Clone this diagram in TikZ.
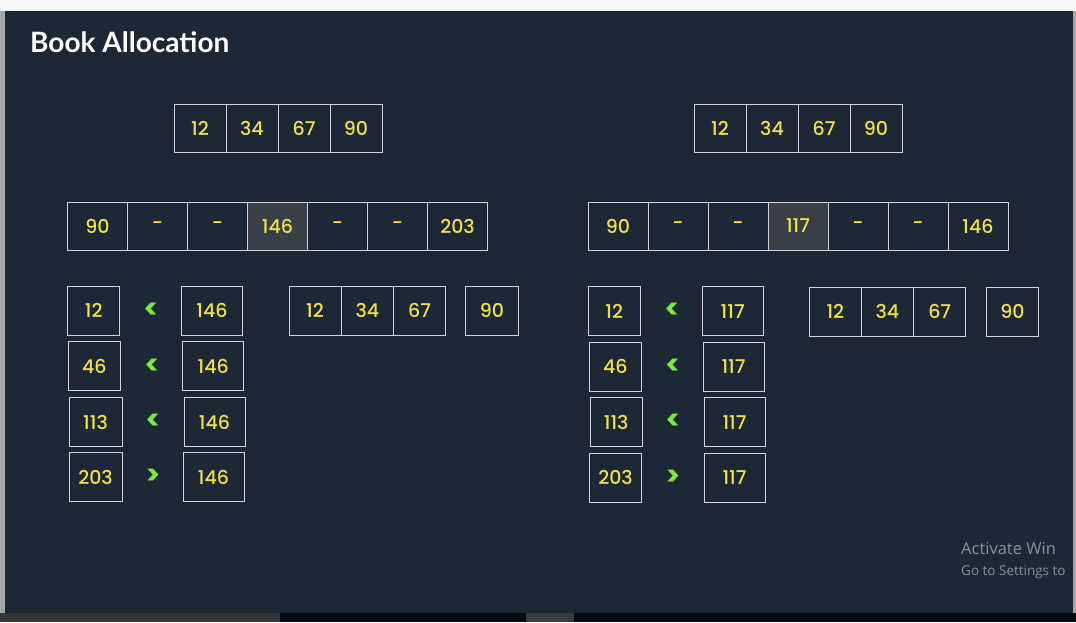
\documentclass[tikz,border=0pt]{standalone}
\usepackage{fontspec}
\setmainfont{Poppins}
\newfontfamily\numfont{Poppins Medium}
\newfontfamily\titlefont{Lato}
\newfontfamily\wmfont{Open Sans}
\definecolor{panel}{HTML}{1C2836}
\definecolor{linec}{HTML}{D4D4D4}
\definecolor{numc}{HTML}{F2E14A}
\definecolor{hlc}{HTML}{383F47}
\definecolor{cmpc}{HTML}{7EE83F}
\definecolor{wmc}{HTML}{8A9199}
\definecolor{taskdark}{HTML}{020B0F}
\definecolor{taskgray}{HTML}{353535}
\definecolor{taskmid}{HTML}{353D3F}
\begin{document}
\begin{tikzpicture}[x=1pt,y=-1pt,
  cell/.style={draw=linec, line width=0.9pt, fill=panel, text=numc,
    font=\numfont\fontsize{19}{19}\selectfont, inner sep=0pt,
    minimum height=48pt, minimum width=52pt},
  wide/.style={cell, minimum width=60pt},
  hl/.style={fill=hlc},
  cmp/.style={text=cmpc, font=\bfseries\fontsize{27}{27}\selectfont, inner sep=0pt},
  wm/.style={text=wmc, anchor=base west, inner sep=0pt}]
\useasboundingbox (0,0) rectangle (1076,622);
% frame / background
\fill[white!94!gray] (0,0) rectangle (1076,11);
\fill[panel] (0,11) rectangle (1076,613);
\fill[gray!70] (0,11) rectangle (4.5,613);
\fill[gray!70] (1073,11) rectangle (1076,613);
\fill[taskgray] (0,613) rectangle (280,622);
\fill[taskdark] (280,613) rectangle (526,622);
\fill[taskmid] (526,613) rectangle (574,622);
\fill[taskdark] (574,613) rectangle (1076,622);
% title
\node[anchor=base west, inner sep=0pt, text=white, font=\titlefont\bfseries\fontsize{28}{28}\selectfont] (title) at (30,52) {Book Allocation};
% ---------- left half ----------
\node[cell] (la1) at (200,128) {12};
\node[cell] (la2) at (252,128) {34};
\node[cell] (la3) at (304,128) {67};
\node[cell] (la4) at (356,128) {90};
\node[wide] (lm1) at (97.5,226) {90};
\node[wide] (lm2) at (157.5,226) {-};
\node[wide] (lm3) at (217.5,226) {-};
\node[wide,hl] (lm4) at (277.5,226) {146};
\node[wide] (lm5) at (337.5,226) {-};
\node[wide] (lm6) at (397.5,226) {-};
\node[wide] (lm7) at (457.5,226) {203};
\node[cell, minimum height=49pt] (lr1a) at (93.7,310.8) {12};
\node[cmp] (lr1c) at (151,310.8) {<};
\node[cell, minimum height=49pt, minimum width=61pt] (lr1b) at (212,310.8) {146};
\node[cell, minimum height=49pt] (lr2a) at (94.3,366.3) {46};
\node[cmp] (lr2c) at (152,366.3) {<};
\node[cell, minimum height=49pt, minimum width=61pt] (lr2b) at (213.2,366.3) {146};
\node[cell, minimum height=49pt, minimum width=53pt] (lr3a) at (95.5,422) {113};
\node[cmp] (lr3c) at (153,422) {<};
\node[cell, minimum height=49pt, minimum width=61pt] (lr3b) at (214.5,422) {146};
\node[cell, minimum height=49pt, minimum width=53pt] (lr4a) at (95.5,477.2) {203};
\node[cmp] (lr4c) at (153,477.2) {>};
\node[cell, minimum height=49pt, minimum width=61pt] (lr4b) at (213.5,477.2) {146};
\node[cell, minimum height=49pt] (ls1) at (315,310.8) {12};
\node[cell, minimum height=49pt] (ls2) at (367.3,310.8) {34};
\node[cell, minimum height=49pt] (ls3) at (419.5,310.8) {67};
\node[cell, minimum height=49pt, minimum width=53.4pt] (ls4) at (492,310.8) {90};
% ---------- right half ----------
\node[cell] (ra1) at (720,128) {12};
\node[cell] (ra2) at (772,128) {34};
\node[cell] (ra3) at (824,128) {67};
\node[cell] (ra4) at (876,128) {90};
\node[wide] (rm1) at (618,226) {90};
\node[wide] (rm2) at (678,226) {-};
\node[wide] (rm3) at (738,226) {-};
\node[wide,hl] (rm4) at (798,226) {117};
\node[wide] (rm5) at (858,226) {-};
\node[wide] (rm6) at (918,226) {-};
\node[wide] (rm7) at (978,226) {146};
\node[cell, minimum height=49pt] (rr1a) at (614.2,311.2) {12};
\node[cmp] (rr1c) at (672,311.2) {<};
\node[cell, minimum height=49pt, minimum width=61pt] (rr1b) at (732.7,311.2) {117};
\node[cell, minimum height=49pt] (rr2a) at (615.3,366.8) {46};
\node[cmp] (rr2c) at (672.7,366.8) {<};
\node[cell, minimum height=49pt, minimum width=61pt] (rr2b) at (733.5,366.8) {117};
\node[cell, minimum height=49pt] (rr3a) at (616.2,422.2) {113};
\node[cmp] (rr3c) at (673,422.2) {<};
\node[cell, minimum height=49pt, minimum width=61pt] (rr3b) at (734.5,422.2) {117};
\node[cell, minimum height=49pt] (rr4a) at (615.5,477.5) {203};
\node[cmp] (rr4c) at (673,477.5) {>};
\node[cell, minimum height=49pt, minimum width=61pt] (rr4b) at (734.5,477.5) {117};
\node[cell, minimum height=49pt] (rs1) at (835.3,311.5) {12};
\node[cell, minimum height=49pt] (rs2) at (887.3,311.5) {34};
\node[cell, minimum height=49pt] (rs3) at (939.7,311.5) {67};
\node[cell, minimum height=49pt, minimum width=52.4pt] (rs4) at (1012.5,311.5) {90};
% watermark (as far as it is visible)
\node[wm, font=\wmfont\fontsize{16.5}{16.5}\selectfont] (wm1) at (961,554) {Activate Win};
\node[wm, font=\wmfont\fontsize{13.5}{13.5}\selectfont] (wm2) at (961,575) {Go to Settings to};
\end{tikzpicture}
\end{document}
